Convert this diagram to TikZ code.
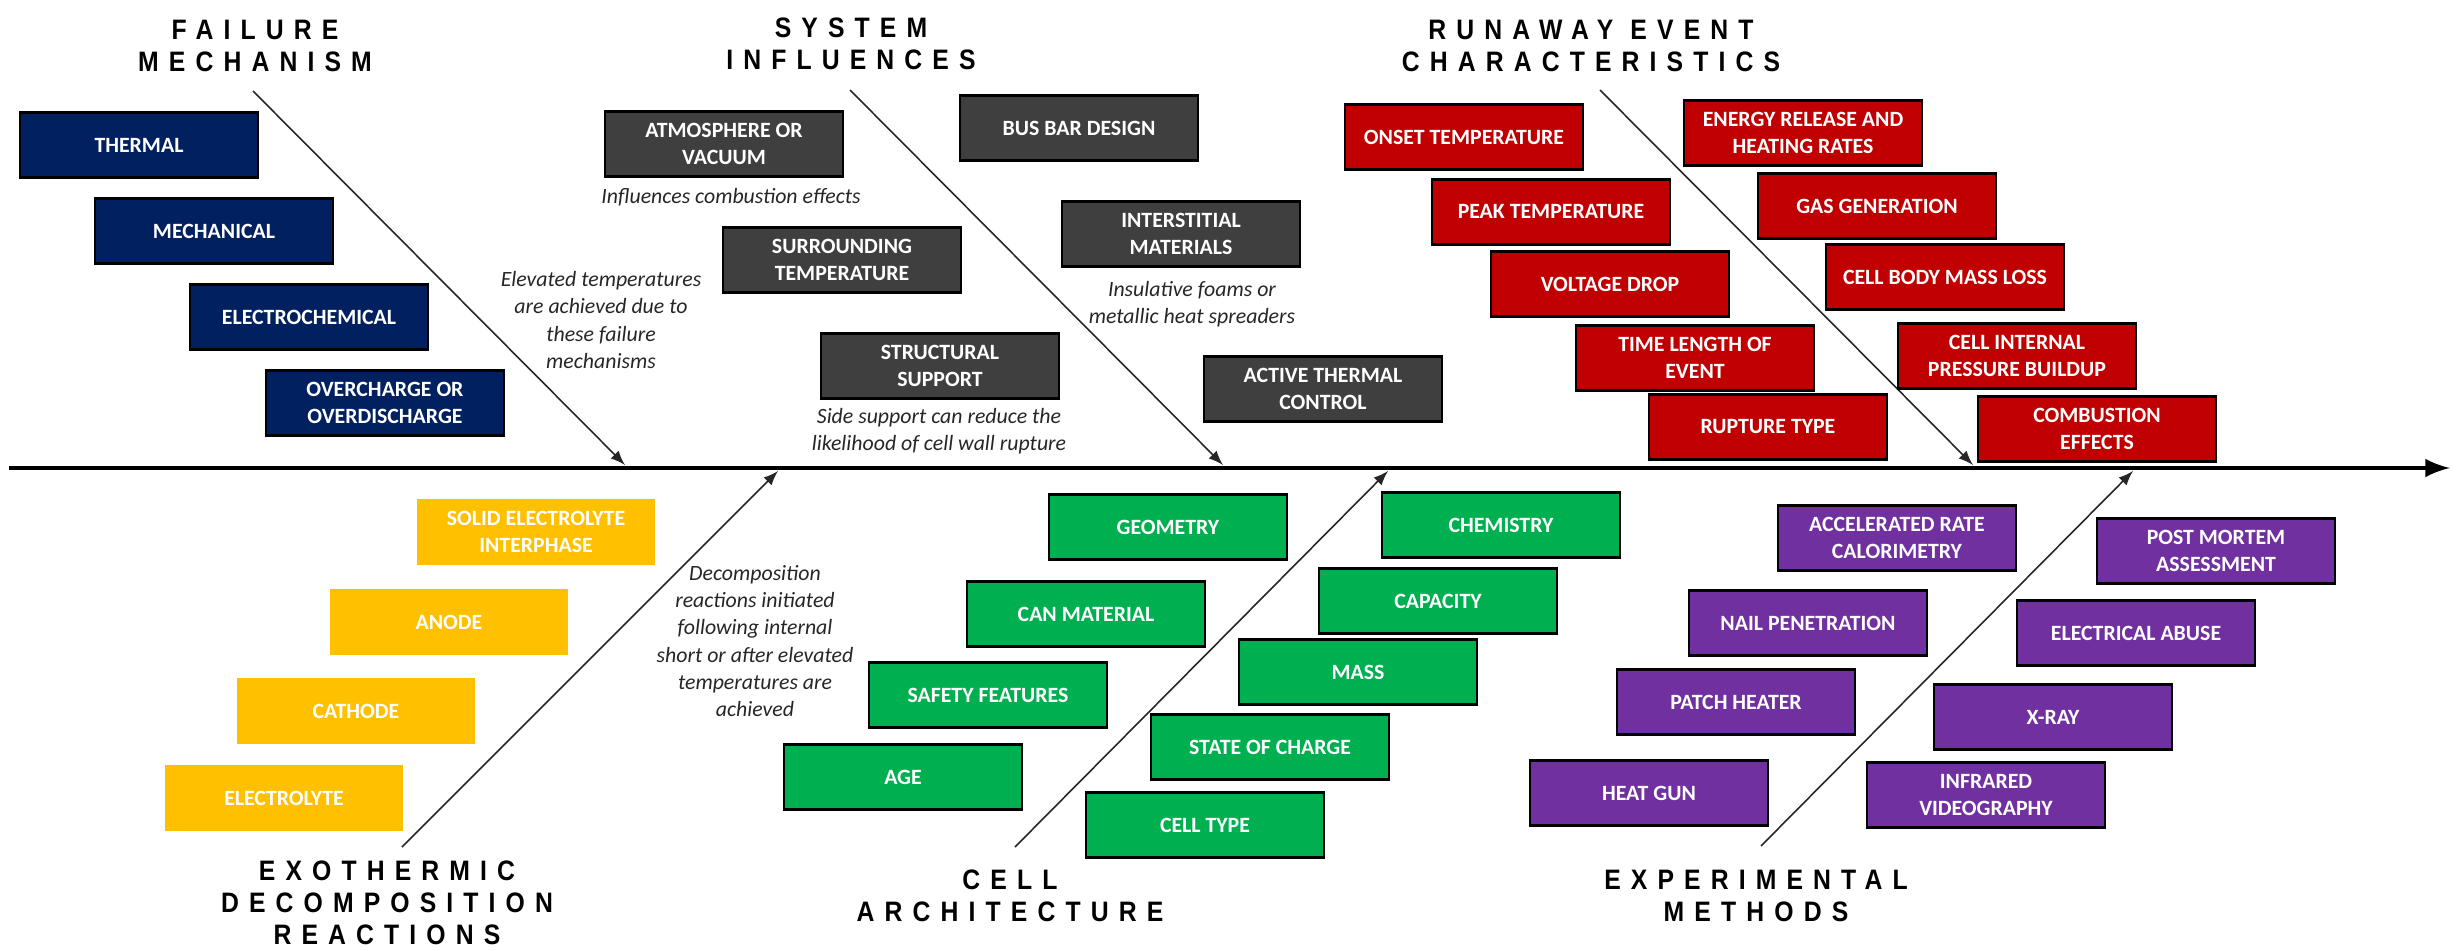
\documentclass[tikz,border=0pt]{standalone}
\usepackage{fontspec}
\usepackage{tikz}
\usepackage{xcolor}
\usetikzlibrary{positioning, arrows}

\newfontfamily\boxfont{Carlito}
\newfontfamily\titlefont[LetterSpace=36, FakeStretch=0.88]{Liberation Sans}

\definecolor{fmnavy}{HTML}{002060}
\definecolor{sigray}{HTML}{3F3F3F}
\definecolor{rered}{HTML}{C00000}
\definecolor{edyellow}{HTML}{FFC000}
\definecolor{cagreen}{HTML}{00B050}
\definecolor{empurple}{HTML}{7030A0}

\tikzset{
  cause/.style={draw=black, line width=0.6pt, minimum width=2.38cm, minimum height=0.65cm,
    inner sep=0pt, text=white, align=center, font=\boxfont\bfseries\fontsize{6.2}{7.7}\selectfont},
  fmbox/.style={cause, fill=fmnavy},
  sibox/.style={cause, fill=sigray},
  rebox/.style={cause, fill=rered},
  edbox/.style={cause, fill=edyellow, draw=none},
  cabox/.style={cause, fill=cagreen},
  embox/.style={cause, fill=empurple},
  head/.style={align=center, font=\titlefont\bfseries\fontsize{8}{9.1}\selectfont},
  note/.style={align=center, text=black!85, font=\boxfont\itshape\fontsize{6.2}{7.7}\selectfont},
  bone/.style={-latex, line width=0.45pt, black!85}
}

\begin{document}
\begin{tikzpicture}[x=0.01cm, y=-0.01cm]
\useasboundingbox (0,0) rectangle (2459,951);

% spine
\coordinate (axA) at (9,468);
\coordinate (axB) at (2450,468);
\draw[-latex, line width=1.4pt] (axA) -- (axB);

% headings
\node[head] (fmhead) at (255,46) {FAILURE\\MECHANISM};
\node[head] (sihead) at (851,44) {SYSTEM\\INFLUENCES};
\node[head] (rehead) at (1591,46) {RUNAWAY EVENT\\CHARACTERISTICS};
\node[head] (edhead) at (387,903) {EXOTHERMIC\\DECOMPOSITION\\REACTIONS};
\node[head] (cahead) at (1010,896) {CELL\\ARCHITECTURE};
\node[head] (emhead) at (1756,896) {EXPERIMENTAL\\METHODS};

% bones
\coordinate (fmA) at (253,91);   \coordinate (fmB) at (625,465);
\coordinate (siA) at (850,90);   \coordinate (siB) at (1223,465);
\coordinate (reA) at (1600,90);  \coordinate (reB) at (1973,465);
\coordinate (edA) at (402,847);  \coordinate (edB) at (778,471);
\coordinate (caA) at (1015,847); \coordinate (caB) at (1388,471);
\coordinate (emA) at (1761,846); \coordinate (emB) at (2133,471);
\draw[bone] (fmA) -- (fmB);
\draw[bone] (siA) -- (siB);
\draw[bone] (reA) -- (reB);
\draw[bone] (edA) -- (edB);
\draw[bone] (caA) -- (caB);
\draw[bone] (emA) -- (emB);

% failure mechanism
\node[fmbox] (thermal) at (139,145) {THERMAL};
\node[fmbox] (mechanical) at (214,231) {MECHANICAL};
\node[fmbox] (electrochem) at (309,317) {ELECTROCHEMICAL};
\node[fmbox] (overcharge) at (385,403) {OVERCHARGE OR\\OVERDISCHARGE};
\node[note] (fmnote) at (601,320) {Elevated temperatures\\are achieved due to\\these failure\\mechanisms};

% system influences
\node[sibox] (atmosphere) at (724,144) {ATMOSPHERE OR\\VACUUM};
\node[note] (atmnote) at (731,197) {Influences combustion effects};
\node[sibox] (surrounding) at (842,260) {SURROUNDING\\TEMPERATURE};
\node[sibox] (structural) at (940,366) {STRUCTURAL\\SUPPORT};
\node[note] (strnote) at (939,431) {Side support can reduce the\\likelihood of cell wall rupture};
\node[sibox] (busbar) at (1079,128) {BUS BAR DESIGN};
\node[sibox] (interstitial) at (1181,234) {INTERSTITIAL\\MATERIALS};
\node[note] (intnote) at (1192,304) {Insulative foams or\\metallic heat spreaders};
\node[sibox] (activethermal) at (1323,389) {ACTIVE THERMAL\\CONTROL};

% runaway event characteristics
\node[rebox] (onset) at (1464,137) {ONSET TEMPERATURE};
\node[rebox] (peak) at (1551,212) {PEAK TEMPERATURE};
\node[rebox] (voltage) at (1610,284) {VOLTAGE DROP};
\node[rebox] (timelength) at (1695,358) {TIME LENGTH OF\\EVENT};
\node[rebox] (rupture) at (1768,427) {RUPTURE TYPE};
\node[rebox] (energy) at (1803,133) {ENERGY RELEASE AND\\HEATING RATES};
\node[rebox] (gas) at (1877,206) {GAS GENERATION};
\node[rebox] (massloss) at (1945,277) {CELL BODY MASS LOSS};
\node[rebox] (pressure) at (2017,356) {CELL INTERNAL\\PRESSURE BUILDUP};
\node[rebox] (combustion) at (2097,429) {COMBUSTION\\EFFECTS};

% exothermic decomposition reactions
\node[edbox] (sei) at (536,532) {SOLID ELECTROLYTE\\INTERPHASE};
\node[edbox] (anode) at (449,622) {ANODE};
\node[edbox] (cathode) at (356,711) {CATHODE};
\node[edbox] (electrolyte) at (284,798) {ELECTROLYTE};
\node[note] (ednote) at (755,641) {Decomposition\\reactions initiated\\following internal\\short or after elevated\\temperatures are\\achieved};

% cell architecture
\node[cabox] (geometry) at (1168,527) {GEOMETRY};
\node[cabox] (canmat) at (1086,614) {CAN MATERIAL};
\node[cabox] (safety) at (988,695) {SAFETY FEATURES};
\node[cabox] (age) at (903,777) {AGE};
\node[cabox] (chemistry) at (1501,525) {CHEMISTRY};
\node[cabox] (capacity) at (1438,601) {CAPACITY};
\node[cabox] (mass) at (1358,672) {MASS};
\node[cabox] (soc) at (1270,747) {STATE OF CHARGE};
\node[cabox] (celltype) at (1205,825) {CELL TYPE};

% experimental methods
\node[embox] (arc) at (1897,538) {ACCELERATED RATE\\CALORIMETRY};
\node[embox] (nail) at (1808,623) {NAIL PENETRATION};
\node[embox] (patch) at (1736,702) {PATCH HEATER};
\node[embox] (heatgun) at (1649,793) {HEAT GUN};
\node[embox] (postmortem) at (2216,551) {POST MORTEM\\ASSESSMENT};
\node[embox] (elecabuse) at (2136,633) {ELECTRICAL ABUSE};
\node[embox] (xray) at (2053,717) {X-RAY};
\node[embox] (infrared) at (1986,795) {INFRARED\\VIDEOGRAPHY};
\end{tikzpicture}
\end{document}
